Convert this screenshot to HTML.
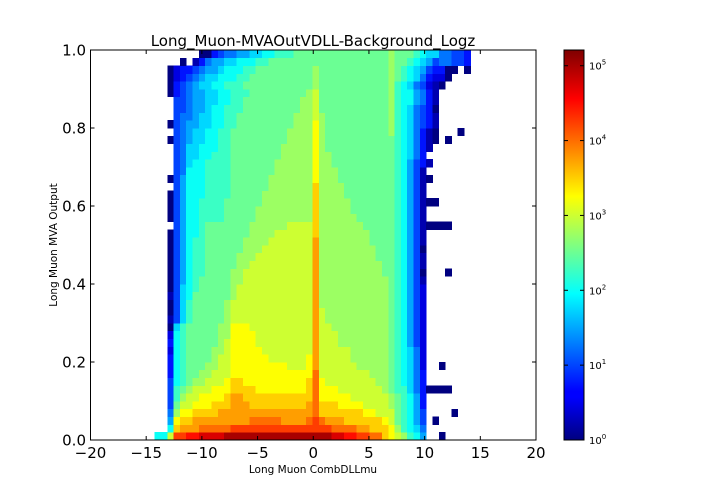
<!DOCTYPE html>
<html><head><meta charset="utf-8"><style>
html,body{margin:0;padding:0;background:#fff;}
svg{display:block;font-family:"DejaVu Sans","Liberation Sans",sans-serif;}
</style></head><body>
<svg id="chart" width="720" height="504" viewBox="0 0 720 504" xmlns="http://www.w3.org/2000/svg">
<rect width="720" height="504" fill="#fff"/>
<text x="313" y="46" font-size="15" text-anchor="middle">Long_Muon-MVAOutVDLL-Background_Logz</text>
<g id="cells" shape-rendering="crispEdges"></g>
<g id="axes"></g>
<text x="313" y="473" font-size="10.5" text-anchor="middle">Long Muon CombDLLmu</text>
<text x="57" y="245" font-size="10.5" text-anchor="middle" transform="rotate(-90 57 245)">Long Muon MVA Output</text>
<defs><linearGradient id="jet" x1="0" y1="1" x2="0" y2="0">
<stop offset="0" stop-color="#00007f"/><stop offset="0.11" stop-color="#0000ff"/><stop offset="0.125" stop-color="#0000ff"/>
<stop offset="0.375" stop-color="#00ffff"/><stop offset="0.5" stop-color="#80ff80"/><stop offset="0.625" stop-color="#ffff00"/>
<stop offset="0.875" stop-color="#ff0000"/><stop offset="1" stop-color="#7f0000"/></linearGradient></defs>
<rect x="564" y="50" width="20" height="390" fill="url(#jet)" stroke="#000" stroke-width="1"/>
<g id="cbar"></g>
</svg>
<script>
// x bin edges: start and width (DLL units); y bins of 0.02 each
const xStart = -14.81;
const xWidth = 0.567;
const yWidth = 0.02;
// each char = level index into levelChars; log10(count) = level * 0.25 ; '.' = empty
const levelChars = "0123456789ABCDEFGHIJKL";
const rows = [
".88|CHHIIJJJJK|KKKKKKKKKKKKK|K|KKJJIIHHGGE|D|CB986..|0.....",
"...|8EFFFGGGGG|HHHHHHHHHHHHH|H|HHGGGGFFEEE|D|B9875..|......",
"...|6DEEFFFFFF|FFFGGGGGFFFFG|H|GFFFEEEEEED|C|A9864.0|......",
"...|5BDDEEEEFF|FFFFFFFFFFFFF|G|EEEEEEEDDCC|C|A9864..|..0...",
"...|4ACCDDDEEE|FFFEEEEEEEEEF|G|EEEDDDDCCCC|B|A9863..|......",
"...|49BCCDDDDE|FFEEEEEEEEEEE|G|DDDDDCCCCCC|B|A9863..|......",
"...|49ABCCCDDD|EEEEDDDDDDDDE|G|DDDCCCCCCCB|A|9975300|00....",
"...|489ABBCCCD|EEDDDDDDDDDDE|G|DCCCCCCCCBB|A|98753..|......",
"...|389AABBCCC|DDDDDDDDDDDDD|G|CCCCCCCCBBB|A|98753..|......",
"...|389AAABBCC|DDDDDDDDDCCCD|F|CCCCCCBBBBB|A|98752..|0.....",
"...|389AAAABCC|DDDDDDCCCCCCD|F|CCCCCBBBBBB|A|98752..|......",
"...|289AAAABBC|DDDDDCCCCCCCC|F|CCCCCBBBBBB|A|98752..|......",
"...|389AAAAABC|DDDDCCCCCCCCC|F|CCCBBBBBBBB|A|98642..|......",
"...|289AAAAABB|DDDDCCCCCCCCC|F|CCCBBBBBBBB|A|98642..|......",
"...|079AAAAABB|DDDCCCCCCCCCC|F|CCBBBBBBBBB|A|98642..|......",
"...|1479AAAAAB|CCCCCCCCCCCCC|F|CBBBBBBBBBB|A|98642..|......",
"...|0479AAAAAB|CCCCCCCCCCCCC|F|CBBBBBBBBBB|A|98642..|......",
"...|0479AAAAAB|CCCCCCCCCCCCC|F|BBBBBBBBBBB|A|98642..|......",
"...|1478AAAAAA|BCCCCCCCCCCCC|F|BBBBBBBBBBB|A|98642..|......",
"...|04789AAAAA|BCCCCCCCCCCCC|F|BBBBBBBBBBB|A|98642..|......",
"...|04689AAAAA|BBCCCCCCCCCCC|F|BBBBBBBBBBB|A|98641..|......",
"...|046899AAAA|BBCCCCCCCCCCC|F|BBBBBBBBBBA|A|98640..|.0....",
"...|046899AAAA|ABBCCCCCCCCCC|F|BBBBBBBBBBA|A|98641..|......",
"...|046899AAAA|ABBBCCCCCCCCC|F|BBBBBBBBBAA|A|98641..|......",
"...|046899AAAA|AABBBCCCCCCCC|F|BBBBBBBBBAA|A|98640..|......",
"...|046899AAAA|AABBBBCCCCCCC|F|BBBBBBBBAAA|A|98641..|......",
"...|046889AAAA|AAABBBBCCCCCC|E|BBBBBBBBAAA|A|98641..|......",
"...|.46889AAAA|AAABBBBBBCCCC|E|BBBBBBBAAAA|A|9864100|00....",
"...|046889999A|AAAABBBBBBBBB|E|BBBBBBAAAAA|A|98641..|......",
"...|046889999A|AAAABBBBBBBBB|E|BBBBBAAAAAA|A|98641..|......",
"...|046889999A|AAAAABBBBBBBB|E|BBBBBAAAAAA|A|9864100|......",
"...|0468889999|AAAAABBBBBBBB|E|BBBBAAAAAAA|A|98641..|......",
"...|.468889999|AAAAAABBBBBBB|E|BBBBAAAAAAA|A|98641..|......",
"...|0468889999|AAAAAABBBBBBB|D|BBBAAAAAAAA|A|986410.|......",
"...|.458889999|AAAAAAABBBBBB|D|BBBAAAAAAAA|A|98641..|......",
"...|.457889999|AAAAAAABBBBBB|D|BBAAAAAAAAA|A|986431.|......",
"...|.457788999|AAAAAAAABBBBB|D|BBAAAAAAAAA|A|98753..|......",
"...|.457788899|AAAAAAAABBBBB|D|BAAAAAAAAAA|A|987531.|......",
"...|0456778899|AAAAAAAAABBBB|D|BAAAAAAAAAA|A|9875310|.0....",
"...|.456778899|AAAAAAAAABBBB|D|BAAAAAAAAAA|B|9875310|...0..",
"...|0456677889|9AAAAAAAAABBB|D|BAAAAAAAAAA|B|9875431|......",
"...|.455677889|9AAAAAAAAABBB|C|BAAAAAAAAAA|B|9875431|......",
"...|.445667889|99AAAAAAAAABB|C|AAAAAAAAAAA|B|9875430|......",
"...|.445667788|99AAAAAAAAABB|C|AAAAAAAAAAA|B|9886531|......",
"...|0345667788|999AAAAAAAAAB|C|AAAAAAAAAAA|B|9886531|......",
"...|0345677889|99AAAAAAAAAAA|B|AAAAAAAAAAA|B|9875421|0.....",
"...|0234567788|899AAAAAAAAAA|B|AAAAAAAAAAA|B|A987532|20....",
"...|0233456678|8899AAAAAAAAA|B|AAAAAAAAAAA|B|A987643|300.0.",
"...|..0.135667|788899AAAAAAA|A|AAAAAAAAAAA|B|AA98764|55443.",
"...|.....00345|5667788999AAA|A|AAAAAAAAAAA|B|AAA9877|55443."
];
const xTicks = [-20,-15,-10,-5,0,5,10,15,20];
const xTickLabels = ["\u221220","\u221215","\u221210","\u22125","0","5","10","15","20"];
const yTicks = [0,0.2,0.4,0.6,0.8,1.0];
const yTickLabels = ["0.0","0.2","0.4","0.6","0.8","1.0"];
const cbarExps = [0,1,2,3,4,5];
const logMax = 5.21;

const NS = "http://www.w3.org/2000/svg";
const L = 90.5, R = 536, T = 50, B = 440;
const xs = v => L + (v + 20) / 40 * (R - L);
const ys = v => B - v * (B - T);
const cl = v => Math.max(0, Math.min(1, v));
function jet(f){
  const r = cl(1.5 - Math.abs(4*f - 3)), g = cl(1.5 - Math.abs(4*f - 2)), b = cl(1.5 - Math.abs(4*f - 1));
  return "rgb(" + Math.round(r*255) + "," + Math.round(g*255) + "," + Math.round(b*255) + ")";
}
function mk(tag, attrs, parent){
  const e = document.createElementNS(NS, tag);
  for (const k in attrs) e.setAttribute(k, attrs[k]);
  parent.appendChild(e);
  return e;
}
const cells = document.getElementById("cells");
rows.forEach((row, r) => {
  const s = row.replace(/\|/g, "");
  for (let i = 0; i < s.length; i++) {
    const c = s[i];
    if (c === ".") continue;
    const lg = levelChars.indexOf(c) * 0.25;
    const x0 = xs(xStart + i * xWidth), x1 = xs(xStart + (i + 1) * xWidth);
    const y1 = ys(r * yWidth), y0 = ys((r + 1) * yWidth);
    const rect = mk("rect", {x: x0.toFixed(2), y: y0.toFixed(2), width: (x1 - x0 + 0.4).toFixed(2), height: (y1 - y0 + 0.4).toFixed(2), fill: jet(lg / logMax)}, cells);
    
    
  }
});
const axes = document.getElementById("axes");
const frame = mk("rect", {x: L, y: T, width: R - L, height: B - T, fill: "none", stroke: "#000", "stroke-width": 1}, axes);


xTicks.forEach((v, k) => {
  const x = xs(v);
  mk("line", {x1: x, y1: B, x2: x, y2: B - 4, stroke: "#000"}, axes);
  mk("line", {x1: x, y1: T, x2: x, y2: T + 4, stroke: "#000"}, axes);
  const t = mk("text", {x: x, y: 458, "font-size": 15, "text-anchor": "middle"}, axes);
  t.textContent = xTickLabels[k];
  
  
});
yTicks.forEach((v, k) => {
  const y = ys(v);
  mk("line", {x1: L, y1: y, x2: L + 4, y2: y, stroke: "#000"}, axes);
  mk("line", {x1: R, y1: y, x2: R - 4, y2: y, stroke: "#000"}, axes);
  const t = mk("text", {x: 86, y: y + 5.5, "font-size": 15, "text-anchor": "end"}, axes);
  t.textContent = yTickLabels[k];
  
  
});
const cbar = document.getElementById("cbar");
cbarExps.forEach(n => {
  const y = 440 - n / logMax * 390;
  mk("line", {x1: 580, y1: y, x2: 584, y2: y, stroke: "#000"}, cbar);
  mk("line", {x1: 564, y1: y, x2: 568, y2: y, stroke: "#000"}, cbar);
  const t = mk("text", {x: 589, y: y + 4, "font-size": 10}, cbar);
  t.textContent = "10";
  const sup = mk("tspan", {dy: -5, "font-size": 7}, t);
  sup.textContent = String(n);
  
  
});
</script>
</body></html>
